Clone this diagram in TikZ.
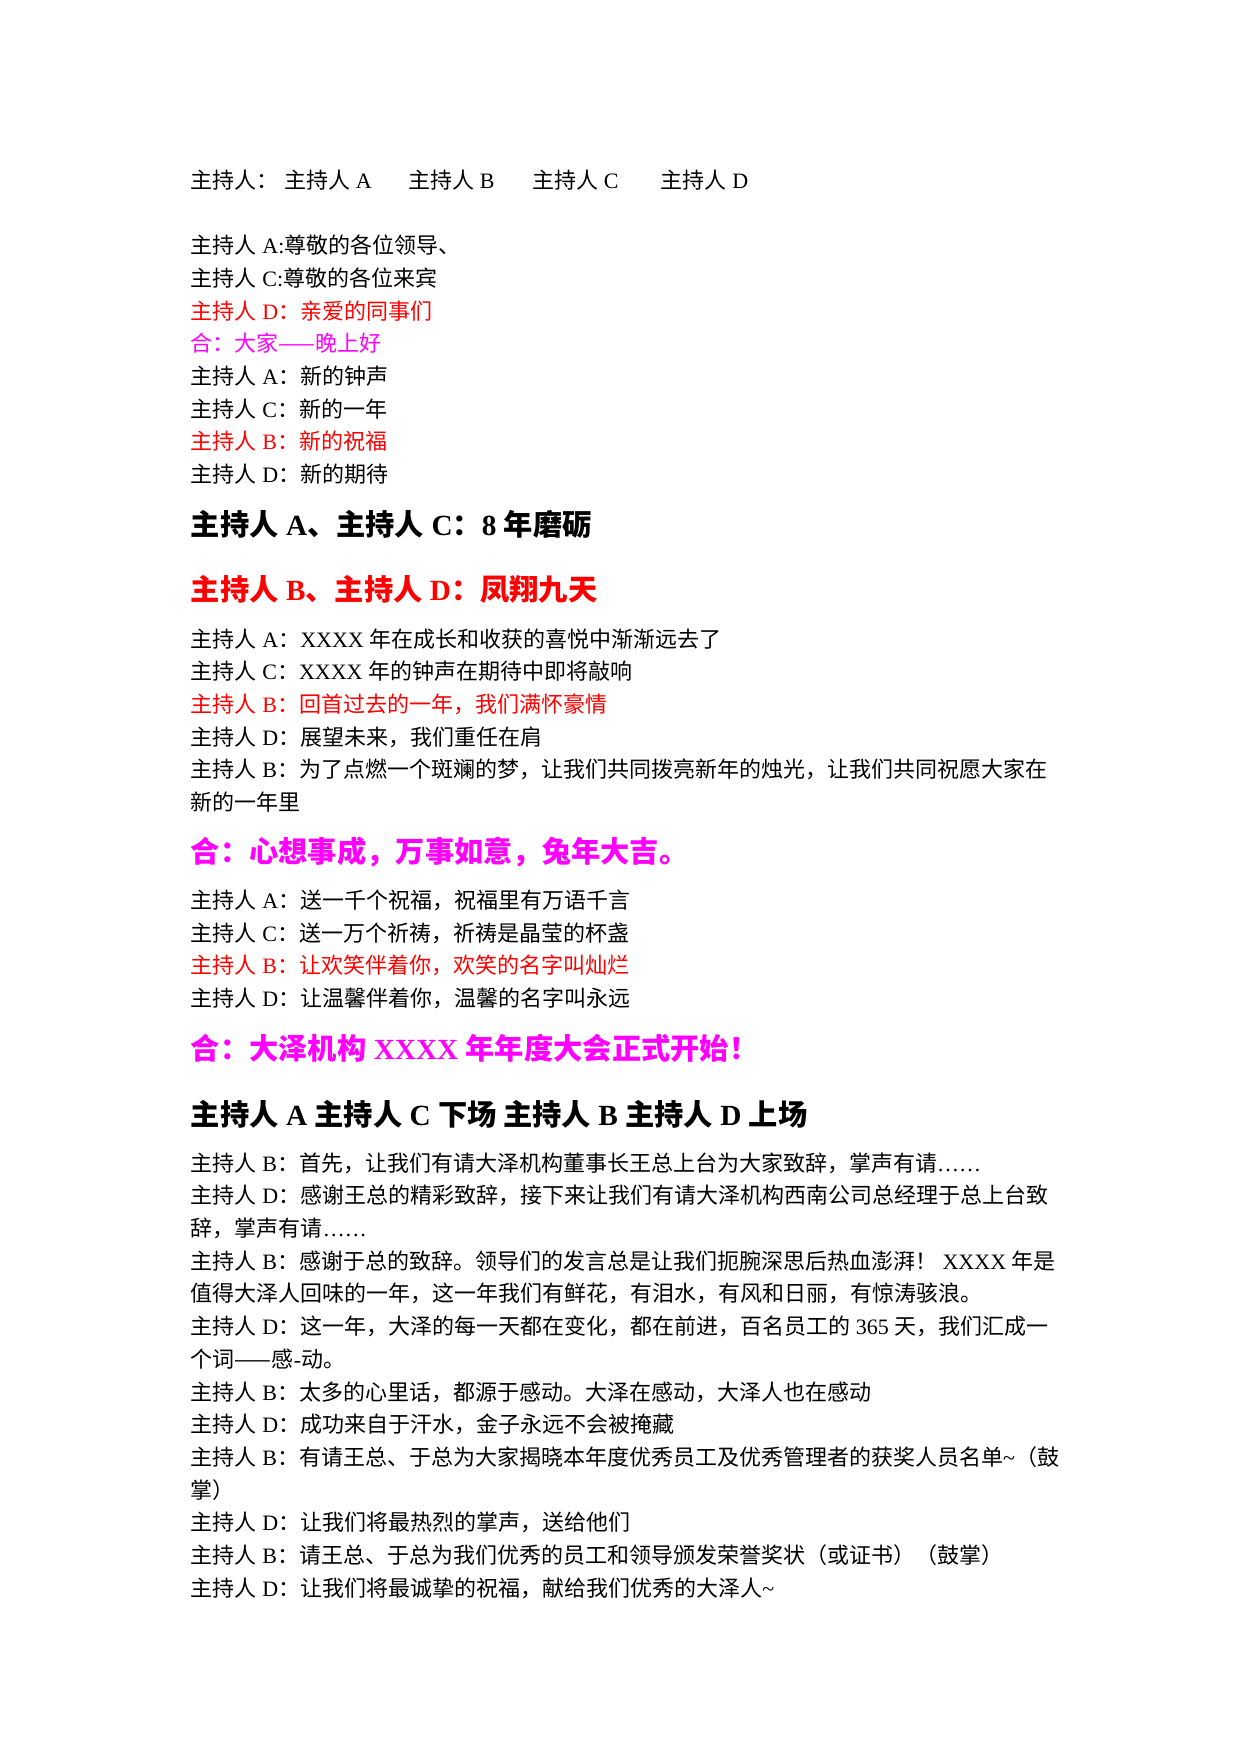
\documentclass[tikz,border=0pt]{standalone}
\usepackage{fontspec}
\setmainfont{Liberation Serif}
\newfontfamily\cjk{Noto Sans CJK SC}
\newfontfamily\lat{Liberation Serif}
\newcommand\en[1]{{\lat #1}}
\definecolor{hotpink}{RGB}{255,0,255}
\tikzset{
  body/.style={anchor=base west, inner sep=0pt, font=\cjk\fontsize{10.6pt}{12pt}\selectfont},
  head/.style={anchor=base west, inner sep=0pt, font=\cjk\bfseries\fontsize{14.1pt}{16pt}\selectfont},
  redline/.style={text=red},
  pinkline/.style={text=hotpink}
}
\begin{document}
\begin{tikzpicture}[x=0.019087cm,y=-0.019087cm]
\useasboundingbox (0,0) rectangle (1100,1556);
% cast
\node[body] (cast)  at (169,167) {主持人：};
\node[body] (castA) at (252,167) {主持人\en{ A}};
\node[body] (castB) at (362,167) {主持人\en{ B}};
\node[body] (castC) at (472,167) {主持人\en{ C}};
\node[body] (castD) at (586,167) {主持人\en{ D}};
% opening
\node[body] (o1) at (169,225) {主持人\en{ A:}尊敬的各位领导、};
\node[body] (o2) at (169,254) {主持人\en{ C:}尊敬的各位来宾};
\node[body,redline] (o3) at (169,283) {主持人\en{ D}：亲爱的同事们};
\node[body,pinkline] (o4) at (169,312) {合：大家——晚上好};
\node[body] (o5) at (169,341) {主持人\en{ A}：新的钟声};
\node[body] (o6) at (169,370) {主持人\en{ C}：新的一年};
\node[body,redline] (o7) at (169,399) {主持人\en{ B}：新的祝福};
\node[body] (o8) at (169,428) {主持人\en{ D}：新的期待};
\node[head] (h1) at (169,475) {主持人\en{ A}、主持人\en{ C}：\en{8 }年磨砺};
\node[head,redline] (h2) at (169,533) {主持人\en{ B}、主持人\en{ D}：凤翔九天};
% new year
\node[body] (n1) at (169,574) {主持人\en{ A}：\en{XXXX }年在成长和收获的喜悦中渐渐远去了};
\node[body] (n2) at (169,603) {主持人\en{ C}：\en{XXXX }年的钟声在期待中即将敲响};
\node[body,redline] (n3) at (169,632) {主持人\en{ B}：回首过去的一年，我们满怀豪情};
\node[body] (n4) at (169,661) {主持人\en{ D}：展望未来，我们重任在肩};
\node[body] (n5) at (169,690) {主持人\en{ B}：为了点燃一个斑斓的梦，让我们共同拨亮新年的烛光，让我们共同祝愿大家在};
\node[body] (n6) at (169,719) {新的一年里};
\node[head,pinkline] (h3) at (169,765) {合：心想事成，万事如意，兔年大吉。};
% wishes
\node[body] (w1) at (169,806) {主持人\en{ A}：送一千个祝福，祝福里有万语千言};
\node[body] (w2) at (169,835) {主持人\en{ C}：送一万个祈祷，祈祷是晶莹的杯盏};
\node[body,redline] (w3) at (169,864) {主持人\en{ B}：让欢笑伴着你，欢笑的名字叫灿烂};
\node[body] (w4) at (169,893) {主持人\en{ D}：让温馨伴着你，温馨的名字叫永远};
\node[head,pinkline] (h4) at (169,940) {合：大泽机构\en{ XXXX }年年度大会正式开始！};
\node[head] (h5) at (169,998) {主持人\en{ A }主持人\en{ C }下场 主持人\en{ B }主持人\en{ D }上场};
% ceremony
\node[body] (c1)  at (169,1039) {主持人\en{ B}：首先，让我们有请大泽机构董事长王总上台为大家致辞，掌声有请\en{……}};
\node[body] (c2)  at (169,1068) {主持人\en{ D}：感谢王总的精彩致辞，接下来让我们有请大泽机构西南公司总经理于总上台致};
\node[body] (c3)  at (169,1097) {辞，掌声有请\en{……}};
\node[body] (c4)  at (169,1126) {主持人\en{ B}：感谢于总的致辞。领导们的发言总是让我们扼腕深思后热血澎湃！\en{ XXXX }年是};
\node[body] (c5)  at (169,1155) {值得大泽人回味的一年，这一年我们有鲜花，有泪水，有风和日丽，有惊涛骇浪。};
\node[body] (c6)  at (169,1184) {主持人\en{ D}：这一年，大泽的每一天都在变化，都在前进，百名员工的\en{ 365 }天，我们汇成一};
\node[body] (c7)  at (169,1213) {个词——感\en{-}动。};
\node[body] (c8)  at (169,1242) {主持人\en{ B}：太多的心里话，都源于感动。大泽在感动，大泽人也在感动};
\node[body] (c9)  at (169,1271) {主持人\en{ D}：成功来自于汗水，金子永远不会被掩藏};
\node[body] (c10) at (169,1300) {主持人\en{ B}：有请王总、于总为大家揭晓本年度优秀员工及优秀管理者的获奖人员名单\en{\textasciitilde}（鼓};
\node[body] (c11) at (169,1329) {掌）};
\node[body] (c12) at (169,1358) {主持人\en{ D}：让我们将最热烈的掌声，送给他们};
\node[body] (c13) at (169,1387) {主持人\en{ B}：请王总、于总为我们优秀的员工和领导颁发荣誉奖状（或证书）（鼓掌）};
\node[body] (c14) at (169,1416) {主持人\en{ D}：让我们将最诚挚的祝福，献给我们优秀的大泽人\en{\textasciitilde}};
\end{tikzpicture}
\end{document}
